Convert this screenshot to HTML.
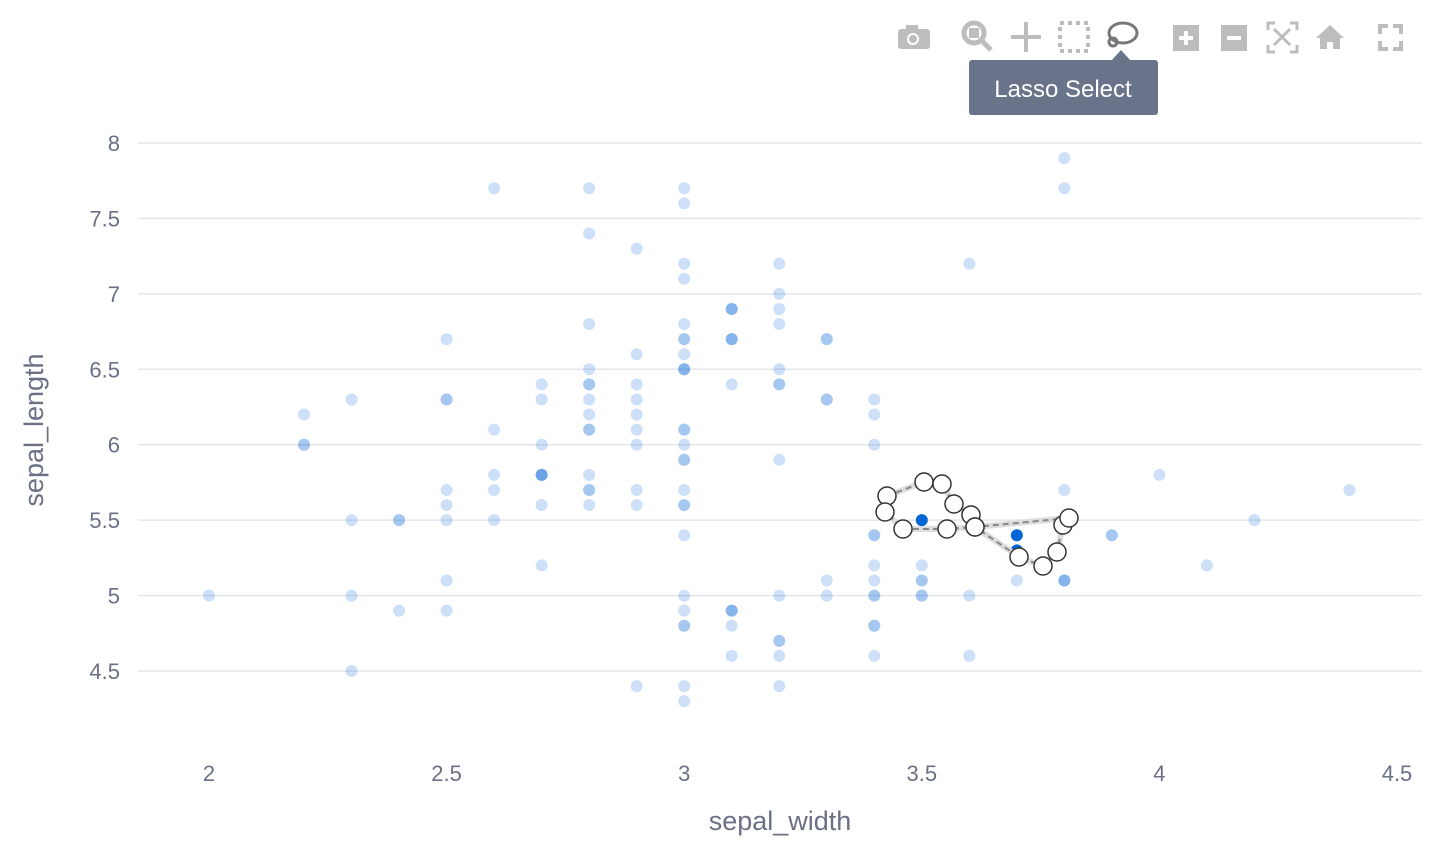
<!DOCTYPE html>
<html><head><meta charset="utf-8"><style>
html,body{margin:0;padding:0;background:#fff;}
body{width:1448px;height:860px;overflow:hidden;font-family:"Liberation Sans",sans-serif;}
</style></head><body>
<svg id="chart" width="1448" height="860" xmlns="http://www.w3.org/2000/svg">
<g id="grid"></g>
<g id="yticks"></g>
<g id="xticks"></g>
<g id="points"></g>
<g id="lasso"></g>
<text x="780" y="830" text-anchor="middle" font-size="27" fill="#6b7085">sepal_width</text>
<text transform="translate(43,430) rotate(-90)" text-anchor="middle" font-size="27" fill="#6b7085">sepal_length</text>
<g fill="#bdbdbd">
 <g><rect x="898" y="29" width="32" height="20" rx="3"/><rect x="906" y="25" width="12" height="6"/><circle cx="913" cy="39" r="6" fill="#fff"/><circle cx="913" cy="39" r="4"/></g>
 <g><circle cx="974" cy="33" r="10" fill="none" stroke="#bdbdbd" stroke-width="5"/><rect x="969" y="28" width="10" height="10"/><line x1="981" y1="40" x2="991" y2="50" stroke="#bdbdbd" stroke-width="5"/></g>
 <g stroke="#bdbdbd" stroke-width="4"><line x1="1026" y1="22" x2="1026" y2="52"/><line x1="1011" y1="37" x2="1041" y2="37"/></g>
 <rect x="1060" y="23" width="28" height="28" fill="none" stroke="#bdbdbd" stroke-width="4" stroke-dasharray="4,4"/>
 <g fill="none" stroke="#777" stroke-width="3"><ellipse cx="1123" cy="33" rx="14" ry="10"/><circle cx="1113" cy="42" r="4"/></g>
 <g><rect x="1173" y="25" width="26" height="26"/><rect x="1179" y="36" width="14" height="4" fill="#fff"/><rect x="1184" y="31" width="4" height="14" fill="#fff"/></g>
 <g><rect x="1221" y="25" width="26" height="26"/><rect x="1227" y="36" width="14" height="4" fill="#fff"/></g>
 <g fill="none" stroke="#bdbdbd" stroke-width="3"><path d="M1268 30v-7h7M1290 23h7v7M1297 45v7h-7M1275 52h-7v-7"/><path d="M1274 29l16 16M1290 29l-16 16"/></g>
 <path d="M1316 38l14-13 14 13h-4v11h-7v-7h-6v7h-7v-11z"/>
 <path fill="none" stroke="#bdbdbd" stroke-width="4" d="M1380 34v-8h8M1393 26h8v8M1401 41v8h-8M1388 49h-8v-8"/>
</g>
<g>
 <rect x="969" y="60" width="189" height="55" rx="3" fill="#69738a"/>
 <path d="M1111 61l10-11 10 11z" fill="#69738a"/>
 <text x="1063" y="97" text-anchor="middle" font-size="24" fill="#fff">Lasso Select</text>
</g>
</svg>
<script>
const sepalWidth=[3.5,3.0,3.2,3.1,3.6,3.9,3.4,3.4,2.9,3.1,3.7,3.4,3.0,3.0,4.0,4.4,3.9,3.5,3.8,3.8,3.4,3.7,3.6,3.3,3.4,3.0,3.4,3.5,3.4,3.2,3.1,3.4,4.1,4.2,3.1,3.2,3.5,3.1,3.0,3.4,3.5,2.3,3.2,3.5,3.8,3.0,3.8,3.2,3.7,3.3,
3.2,3.2,3.1,2.3,2.8,2.8,3.3,2.4,2.9,2.7,2.0,3.0,2.2,2.9,2.9,3.1,3.0,2.7,2.2,2.5,3.2,2.8,2.5,2.8,2.9,3.0,2.8,3.0,2.9,2.6,2.4,2.4,2.7,2.7,3.0,3.4,3.1,2.3,3.0,2.5,2.6,3.0,2.6,2.3,2.7,3.0,2.9,2.9,2.5,2.8,
3.3,2.7,3.0,2.9,3.0,3.0,2.5,2.9,2.5,3.6,3.2,2.7,3.0,2.5,2.8,3.2,3.0,3.8,2.6,2.2,3.2,2.8,2.8,2.7,3.3,3.2,2.8,3.0,2.8,3.0,2.8,3.8,2.8,2.8,2.6,3.0,3.4,3.1,3.0,3.1,3.1,3.1,2.7,3.2,3.3,3.0,2.5,3.0,3.4,3.0];
const sepalLength=[5.1,4.9,4.7,4.6,5.0,5.4,4.6,5.0,4.4,4.9,5.4,4.8,4.8,4.3,5.8,5.7,5.4,5.1,5.7,5.1,5.4,5.1,4.6,5.1,4.8,5.0,5.0,5.2,5.2,4.7,4.8,5.4,5.2,5.5,4.9,5.0,5.5,4.9,4.4,5.1,5.0,4.5,4.4,5.0,5.1,4.8,5.1,4.6,5.3,5.0,
7.0,6.4,6.9,5.5,6.5,5.7,6.3,4.9,6.6,5.2,5.0,5.9,6.0,6.1,5.6,6.7,5.6,5.8,6.2,5.6,5.9,6.1,6.3,6.1,6.4,6.6,6.8,6.7,6.0,5.7,5.5,5.5,5.8,6.0,5.4,6.0,6.7,6.3,5.6,5.5,5.5,6.1,5.8,5.0,5.6,5.7,5.7,6.2,5.1,5.7,
6.3,5.8,7.1,6.3,6.5,7.6,4.9,7.3,6.7,7.2,6.5,6.4,6.8,5.7,5.8,6.4,6.5,7.7,7.7,6.0,6.9,5.6,7.7,6.3,6.7,7.2,6.2,6.1,6.4,7.2,7.4,7.9,6.4,6.3,6.1,7.7,6.3,6.4,6.0,6.9,6.7,6.9,5.8,6.8,6.7,6.7,6.3,6.5,6.2,5.9];
const selectedIdx=[10,36,48];
const xTicks=[2,2.5,3,3.5,4,4.5];
const yTicks=[4.5,5,5.5,6,6.5,7,7.5,8];
const X=v=>209+(v-2)*475.2;
const Y=v=>143+(8-v)*150.86;
const NS="http://www.w3.org/2000/svg";
function mk(t,a,p){const e=document.createElementNS(NS,t);for(const k in a)e.setAttribute(k,a[k]);p.appendChild(e);return e;}
const grid=document.getElementById('grid'),yt=document.getElementById('yticks'),xt=document.getElementById('xticks');
yTicks.forEach(v=>{
 const l=mk('line',{x1:138,x2:1422,y1:Y(v),y2:Y(v),stroke:'#e3e6ee','stroke-width':1.5},grid);
 
 
 const t=mk('text',{x:120,y:Y(v)+8,'text-anchor':'end','font-size':22,fill:'#6b7085'},yt);
 t.textContent=String(v);
 
 
});
xTicks.forEach(v=>{
 const t=mk('text',{x:X(v),y:781,'text-anchor':'middle','font-size':22,fill:'#6b7085'},xt);
 t.textContent=String(v);
 
 
});
const pts=document.getElementById('points');
sepalWidth.forEach((w,i)=>{
 const sel=selectedIdx.includes(i);
 const c=mk('circle',{cx:X(w),cy:Y(sepalLength[i]),r:6,fill:'#0366d6','fill-opacity':sel?1:0.2},pts);
 
 
});
const lassoPts=[[887,496],[924,482],[942,484],[954,504],[971,515],[975,527],[1019,557],[1043,566],[1057,552],[1063,525],[1069,518],[975,527],[947,529],[903,529],[885,512]];
const lg=document.getElementById('lasso');
const d='M'+lassoPts.map(p=>p.join(' ')).join('L')+'Z';
mk('path',{d:d,fill:'none',stroke:'#ddd','stroke-width':6},lg);
mk('path',{d:d,fill:'none',stroke:'#888','stroke-width':2,'stroke-dasharray':'6,4'},lg);
lassoPts.forEach(p=>{
 const c=mk('circle',{cx:p[0],cy:p[1],r:9,fill:'#fff',stroke:'#333','stroke-width':1.5},lg);
 
 
});
</script>
</body></html>
